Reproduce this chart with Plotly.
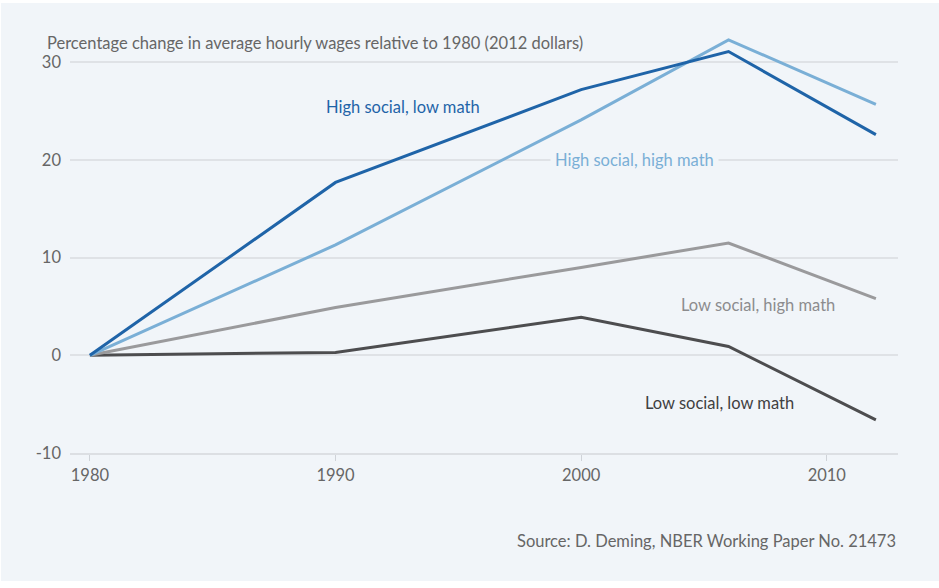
import plotly.graph_objects as go

# Survey years and wage changes (% vs 1980, 2012 dollars)
years = [1980, 1990, 2000, 2006, 2012]
high_social_low_math = [0, 17.7, 27.2, 31.1, 22.6]
high_social_high_math = [0, 11.3, 24.1, 32.3, 25.7]
low_social_high_math = [0, 4.9, 9.0, 11.5, 5.8]
low_social_low_math = [0, 0.3, 3.9, 0.9, -6.6]

y_ticks = [-10, 0, 10, 20, 30]
y_tick_text = ["-10", "0", "10", "20", "30"]
x_ticks = [1980, 1990, 2000, 2010]

FONT = "Lato"
BG = "#f1f5f9"
TEXT = "#666666"
FS = 16.5

series = [
    ("Low social, low math", low_social_low_math, "#4d4d4f"),
    ("Low social, high math", low_social_high_math, "#9a9a9c"),
    ("High social, high math", high_social_high_math, "#7aafd6"),
    ("High social, low math", high_social_low_math, "#1f64a8"),
]

fig = go.Figure()
for name, vals, color in series:
    fig.add_trace(go.Scatter(
        x=years, y=vals, mode="lines", name=name,
        line=dict(color=color, width=3), showlegend=False,
        hoverinfo="skip",
    ))

# plot-area geometry in pixels (used to place the outer panel and texts)
L, R, T, B = 70, 898, 33, 453
W, H = 939, 588

def px(x):
    return (x - L) / (R - L)

def py(y):
    return (B - y) / (B - T)

fig.add_shape(type="rect", xref="paper", yref="paper",
              x0=px(1), x1=px(939), y0=py(3), y1=py(581),
              fillcolor=BG, line=dict(width=0), layer="below")

# zero reference line
fig.add_shape(type="line", xref="paper", yref="y", x0=0, x1=1, y0=0, y1=0,
              line=dict(color="#b5b8bc", width=1.3), layer="below")

# series labels: (text, left edge px, centre y px, colour, masks gridline)
labels = [
    ("High social, low math", 325, 107, "#1f64a8", False),
    ("High social, high math", 554, 160, "#7aafd6", True),
    ("Low social, high math", 680, 305, "#8c8c8e", False),
    ("Low social, low math", 644, 403, "#3f3f41", False),
]
for text, x, y, color, mask in labels:
    pad = 4 if mask else 0
    fig.add_annotation(x=px(x - pad), y=py(y), xref="paper", yref="paper", text=text,
                       showarrow=False, xanchor="left", yanchor="middle",
                       font=dict(family=FONT, size=FS, color=color),
                       bgcolor=BG if mask else None, borderpad=pad)

fig.add_annotation(x=px(45), y=py(43), xref="paper", yref="paper",
                   text="Percentage change in average hourly wages relative to 1980 (2012 dollars)",
                   showarrow=False, xanchor="left", yanchor="middle",
                   font=dict(family=FONT, size=FS, color=TEXT))
fig.add_annotation(x=1, y=py(541), xref="paper", yref="paper",
                   text="Source: D. Deming, NBER Working Paper No. 21473",
                   showarrow=False, xanchor="right", yanchor="middle",
                   font=dict(family=FONT, size=FS, color=TEXT))

fig.update_layout(
    width=W, height=H,
    margin=dict(l=L, r=W - R, t=T, b=H - B),
    paper_bgcolor="white", plot_bgcolor="rgba(0,0,0,0)",
    font=dict(family=FONT, size=FS, color=TEXT),
    xaxis=dict(range=[1979.19, 2012.9], tickvals=x_ticks,
               showgrid=False, zeroline=False,
               showline=True, linecolor="#dcdfe3", linewidth=2,
               ticks="outside", ticklen=6, tickcolor="#cfd3d8",
               tickfont=dict(family=FONT, size=FS, color=TEXT)),
    yaxis=dict(range=[-10, 33], tickvals=y_ticks, ticktext=y_tick_text,
               showgrid=True, gridcolor="#dfe2e6", gridwidth=2,
               zeroline=False, showline=False, ticks="",
               ticklabelstandoff=8,
               tickfont=dict(family=FONT, size=FS, color=TEXT)),
)

fig.write_html("out.html")
